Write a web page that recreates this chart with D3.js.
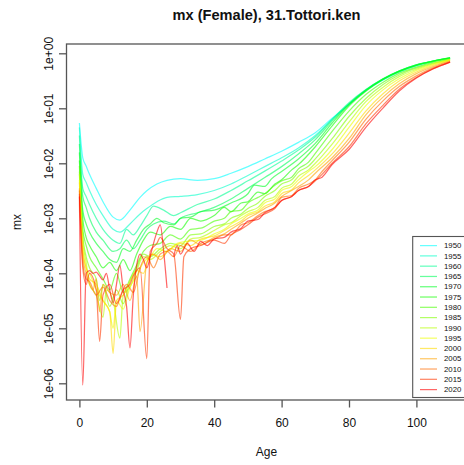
<!DOCTYPE html>
<html>
<head>
<meta charset="utf-8">
<script src="https://cdn.jsdelivr.net/npm/d3@7"></script>
<style>
  body { margin: 0; background: #fff; }
  svg { display: block; }
  text { font-family: "Liberation Sans", Arial, Helvetica, sans-serif; fill: #111; }
</style>
</head>
<body>
<svg id="chart" width="464" height="465"></svg>
<script>
// Female death rates (mx) by single year of age, Tottori prefecture, every fifth year.
const years = [1950, 1955, 1960, 1965, 1970, 1975, 1980, 1985, 1990, 1995, 2000, 2005, 2010, 2015, 2020];

const ages1950 = [0,1,2,3,5,7,10,12,15,18,20,23,26,30,35,40,45,50,55,60,65,70,75,80,85,90,95,100,105,110];
const mx1950 = [5.4e-2,1.26e-2,8.9e-3,6.3e-3,3.5e-3,2.0e-3,1.05e-3,9.3e-4,1.41e-3,2.4e-3,3.16e-3,4.2e-3,4.9e-3,5.25e-3,4.9e-3,5.25e-3,6.6e-3,8.7e-3,1.2e-2,1.66e-2,2.4e-2,3.6e-2,6.6e-2,0.117,0.209,0.324,0.457,0.589,0.708,0.813];

const ages1955 = ages1950;
const mx1955 = [4.5e-2,6.3e-3,4.5e-3,3.2e-3,1.78e-3,1.12e-3,6.3e-4,5.6e-4,7.9e-4,1.2e-3,1.5e-3,2.0e-3,2.4e-3,2.5e-3,2.7e-3,3.2e-3,4.2e-3,6.0e-3,8.7e-3,1.26e-2,1.9e-2,3.2e-2,6.3e-2,0.12,0.214,0.331,0.468,0.603,0.724,0.813];

const ages1960 = [0,1,2,3,5,7,10,12,14,16,18,20,22,25,28,30,35,40,45,50,55,60,65,70,75,80,85,90,95,100,105,110];
const mx1960 = [3.2e-2,3.5e-3,2.5e-3,1.78e-3,1.0e-3,6.3e-4,4.0e-4,3.5e-4,6.3e-4,5.0e-4,7.1e-4,1.12e-3,1.66e-3,1.41e-3,1.12e-3,1.26e-3,1.78e-3,2.24e-3,3.2e-3,4.8e-3,7.2e-3,1.1e-2,1.74e-2,3.0e-2,6.3e-2,0.126,0.219,0.339,0.479,0.617,0.724,0.822];

const ages1965 = ages1960;
const mx1965 = [2.24e-2,2.5e-3,1.58e-3,1.0e-3,5.6e-4,4.0e-4,2.5e-4,2.8e-4,4.0e-4,2.8e-4,4.0e-4,6.3e-4,7.9e-4,8.9e-4,7.9e-4,1.0e-3,1.26e-3,1.58e-3,2.24e-3,3.5e-3,5.5e-3,8.7e-3,1.48e-2,2.7e-2,5.9e-2,0.12,0.214,0.339,0.479,0.617,0.724,0.822];

const ages1970 = [0,1,2,3,5,7,9,11,13,15,17,19,21,23,25,28,30,33,36,40,45,50,52,55,57,60,65,70,75,80,85,90,95,100,105,110];
const mx1970 = [1.58e-2,1.41e-3,7.9e-4,5.6e-4,3.5e-4,2.5e-4,1.78e-4,1.58e-4,2.8e-4,2.5e-4,4.0e-4,6.3e-4,7.9e-4,1.0e-3,8.3e-4,7.6e-4,1.0e-3,1.05e-3,1.32e-3,1.41e-3,1.9e-3,2.8e-3,4.0e-3,3.8e-3,5.2e-3,7.1e-3,1.2e-2,2.3e-2,5.4e-2,0.117,0.214,0.339,0.479,0.617,0.724,0.822];

const ages1975 = [0,1,2,3,5,7,9,11,13,15,17,19,21,24,27,30,33,36,40,43,45,48,50,53,55,58,60,63,65,70,75,80,85,90,95,100,105,110];
const mx1975 = [1.12e-2,1.0e-3,4.5e-4,3.2e-4,2.0e-4,1.26e-4,1.58e-4,1.12e-4,1.78e-4,1.12e-4,2.24e-4,4.0e-4,5.6e-4,5.0e-4,7.1e-4,6.3e-4,1.0e-3,8.9e-4,1.12e-3,1.58e-3,1.32e-3,1.9e-3,2.0e-3,3.0e-3,2.8e-3,4.2e-3,5.0e-3,7.6e-3,9.5e-3,2.0e-2,4.8e-2,0.11,0.204,0.331,0.468,0.603,0.724,0.822];

const ages1980 = [0,1,2,3,5,7,9,11,13,15,17,19,21,24,27,30,33,36,40,43,45,48,50,53,55,58,60,63,65,68,70,75,80,85,90,95,100,105,110];
const mx1980 = [8.9e-3,6.3e-4,3.2e-4,2.0e-4,1.26e-4,7.9e-5,5.0e-5,1.0e-4,4.5e-5,7.9e-5,1.41e-4,2.5e-4,3.2e-4,3.5e-4,5.0e-4,4.2e-4,6.3e-4,6.6e-4,8.9e-4,1.0e-3,1.32e-3,1.41e-3,1.9e-3,2.4e-3,2.8e-3,4.0e-3,4.8e-3,5.6e-3,7.9e-3,1.05e-2,1.51e-2,3.8e-2,8.9e-2,0.178,0.295,0.437,0.562,0.692,0.794];

const ages1985 = [0,1,2,3,5,6,7,9,11,13,15,17,19,21,24,27,30,33,36,40,43,45,48,50,53,55,58,60,63,65,68,70,75,80,85,90,95,100,105,110];
const mx1985 = [7.1e-3,5.0e-4,2.0e-4,1.26e-4,7.9e-5,3.2e-5,6.3e-5,2.5e-5,5.0e-5,2.8e-5,7.1e-5,1.26e-4,2.24e-4,2.0e-4,2.8e-4,3.5e-4,3.2e-4,5.0e-4,5.2e-4,7.1e-4,7.9e-4,1.0e-3,1.2e-3,1.51e-3,1.9e-3,2.5e-3,3.2e-3,4.2e-3,5.0e-3,6.9e-3,8.9e-3,1.2e-2,2.8e-2,7.1e-2,0.151,0.269,0.407,0.537,0.661,0.776];

const ages1990 = [0,1,2,3,5,7,8,10,12,13,15,17,19,21,24,27,30,33,36,40,43,45,48,50,53,55,58,60,63,65,68,70,75,80,85,90,95,100,105,110];
const mx1990 = [6.3e-3,4.0e-4,1.58e-4,6.3e-5,4.0e-5,1.58e-5,5.0e-5,3.2e-5,6.6e-6,4.0e-5,5.6e-5,1.12e-4,2.0e-4,1.78e-4,2.5e-4,3.2e-4,2.8e-4,4.2e-4,4.5e-4,6.0e-4,7.6e-4,8.3e-4,1.12e-3,1.32e-3,1.58e-3,2.1e-3,2.5e-3,3.5e-3,4.2e-3,5.8e-3,7.6e-3,1.0e-2,2.24e-2,5.6e-2,0.132,0.24,0.38,0.513,0.646,0.759];

const ages1995 = [0,1,2,3,5,7,9,10,11,13,15,17,19,21,23,26,29,32,36,40,43,45,48,50,53,55,58,60,63,65,68,70,75,80,85,90,95,100,105,110];
const mx1995 = [5.0e-3,3.2e-4,1.26e-4,1.0e-4,5.0e-5,3.2e-5,2.0e-5,1.0e-5,3.2e-5,2.24e-5,5.6e-5,8.9e-5,1.58e-4,2.0e-4,2.8e-4,2.5e-4,3.5e-4,3.8e-4,4.0e-4,5.2e-4,6.3e-4,7.9e-4,1.0e-3,1.2e-3,1.41e-3,1.9e-3,2.24e-3,3.2e-3,3.8e-3,5.0e-3,7.1e-3,8.7e-3,1.78e-2,4.5e-2,0.112,0.214,0.347,0.49,0.631,0.759];

const ages2000 = [0,1,2,3,5,7,9,10,11,13,15,17,19,21,24,27,30,33,36,40,43,45,48,50,53,55,58,60,63,65,68,70,75,80,85,90,95,100,105,110];
const mx2000 = [4.5e-3,2.5e-4,1.26e-4,7.9e-5,6.3e-5,3.2e-5,2.0e-5,3.5e-6,3.2e-5,4.0e-5,7.1e-5,1.12e-4,1.0e-4,2.24e-4,2.0e-4,2.8e-4,3.5e-4,3.2e-4,4.2e-4,4.8e-4,6.0e-4,7.1e-4,8.9e-4,1.12e-3,1.32e-3,1.66e-3,2.0e-3,2.8e-3,3.3e-3,4.4e-3,6.0e-3,7.6e-3,1.48e-2,3.5e-2,8.9e-2,0.182,0.316,0.457,0.603,0.741];

const ages2005 = [0,1,2,3,4,5,6,7,9,11,13,15,17,18,20,22,24,27,30,33,36,40,43,45,48,50,53,55,58,60,63,65,68,70,75,80,85,90,95,100,105,110];
const mx2005 = [3.5e-3,2.0e-4,1.0e-4,6.3e-5,5.0e-5,7.9e-5,2.0e-5,6.3e-5,4.5e-5,4.0e-5,6.3e-5,3.2e-5,8.9e-5,8.7e-6,1.58e-4,2.24e-4,1.78e-4,2.8e-4,2.5e-4,4.0e-4,3.3e-4,4.5e-4,5.2e-4,6.3e-4,8.3e-4,1.0e-3,1.26e-3,1.51e-3,1.9e-3,2.5e-3,3.2e-3,3.8e-3,5.0e-3,6.6e-3,1.26e-2,2.8e-2,7.6e-2,0.158,0.282,0.427,0.575,0.724];

const ages2010 = [0,1,2,3,5,7,9,11,12,14,16,18,20,22,24,26,28,30,33,36,40,43,45,48,50,53,55,58,60,63,65,68,70,72,75,80,85,90,95,100,105,110];
const mx2010 = [3.2e-3,1.58e-4,7.9e-5,7.1e-5,4.0e-5,5.6e-5,3.2e-5,2.5e-5,3.5e-5,6.3e-5,4.5e-5,1.26e-4,2.0e-4,1.26e-4,2.24e-4,2.5e-4,2.0e-4,3.2e-4,2.5e-4,3.5e-4,4.2e-4,5.0e-4,5.0e-4,7.6e-4,8.3e-4,1.12e-3,1.32e-3,1.58e-3,2.4e-3,2.6e-3,3.5e-3,4.2e-3,5.0e-3,7.1e-3,1.12e-2,2.4e-2,6.3e-2,0.135,0.251,0.389,0.55,0.708];

const ages2015 = [0,1,2,3,5,6,7,9,11,13,15,16,18,20,21,23,24,26,28,30,31,33,36,40,43,45,48,50,53,55,58,60,63,65,68,70,72,75,80,85,90,95,100,105,110];
const mx2015 = [2.8e-3,1.26e-4,6.3e-5,1.0e-4,5.0e-5,5.8e-6,4.0e-5,6.3e-5,2.8e-5,5.0e-5,6.3e-5,8.9e-5,1.26e-4,2.8e-6,2.5e-4,3.5e-4,4.5e-4,2.8e-4,2.24e-4,1.45e-5,2.0e-4,2.8e-4,3.2e-4,4.0e-4,3.5e-4,5.0e-4,6.3e-4,7.6e-4,1.05e-3,1.2e-3,1.51e-3,2.1e-3,2.5e-3,3.2e-3,3.8e-3,4.8e-3,6.3e-3,1.0e-2,2.0e-2,5.2e-2,0.112,0.224,0.363,0.525,0.692];

// null = no deaths recorded at that age (cannot be drawn on a log axis)
const ages2020 = [0,1,2,3,4,5,6,7,8,9,10,11,12,13,14,15,16,17,18,19,20,21,22,23,24,25,26,27,28,29,30,32,34,36,38,40,43,45,48,50,53,55,58,60,63,65,68,70,72,75,80,85,90,95,100,105,110];
const mx2020 = [2.5e-3,9.3e-7,1.0e-4,1.12e-4,1.0e-4,1.05e-4,8.9e-5,7.6e-5,1.0e-4,5.0e-5,2.9e-5,6.3e-5,1.41e-4,5.0e-5,2.5e-5,4.4e-6,4.0e-5,1.41e-4,2.24e-4,1.78e-4,1.26e-4,2.0e-4,3.5e-4,5.6e-4,7.6e-4,2.5e-4,5.4e-5,null,2.0e-4,3.2e-4,2.24e-4,3.5e-4,2.5e-4,3.8e-4,3.2e-4,4.2e-4,4.5e-4,5.6e-4,6.6e-4,8.9e-4,9.5e-4,1.26e-3,1.58e-3,2.1e-3,2.5e-3,3.2e-3,3.8e-3,5.0e-3,5.6e-3,9.5e-3,1.78e-2,4.5e-2,0.1,0.209,0.355,0.525,0.692];

const yTicks = [1e-6, 1e-5, 1e-4, 1e-3, 1e-2, 1e-1, 1];
const yTickLabels = ["1e-06", "1e-05", "1e-04", "1e-03", "1e-02", "1e-01", "1e+00"];
const xTicks = [0, 20, 40, 60, 80, 100];

const ageArrays = [ages1950, ages1955, ages1960, ages1965, ages1970, ages1975, ages1980, ages1985, ages1990, ages1995, ages2000, ages2005, ages2010, ages2015, ages2020];
const mxArrays = [mx1950, mx1955, mx1960, mx1965, mx1970, mx1975, mx1980, mx1985, mx1990, mx1995, mx2000, mx2005, mx2010, mx2015, mx2020];

const series = years.map((yr, i) => ({
  year: yr,
  points: ageArrays[i].map((a, j) => ({ age: a, mx: mxArrays[i][j] }))
}));

// rainbow from cyan (oldest) to red (newest)
const hue = d3.scaleLinear().domain([0, years.length - 1]).range([180, 0]);
const colorOf = i => d3.hsl(hue(i), 1, 0.5).formatHex();

const svg = d3.select("#chart");
const plot = { left: 66.5, top: 44, right: 470, bottom: 400 };

const x = d3.scaleLinear().domain([0, 100]).range([79.4, 416.4]);
const y = d3.scaleLog().domain([1e-6, 1]).range([383.3, 53.3]);

svg.append("defs").append("clipPath").attr("id", "plotclip")
  .append("rect")
  .attr("x", plot.left).attr("y", plot.top)
  .attr("width", plot.right - plot.left).attr("height", plot.bottom - plot.top);

// series lines
const line = d3.line()
  .defined(d => d.mx != null)
  .x(d => x(d.age))
  .y(d => y(d.mx))
  .curve(d3.curveMonotoneX);

svg.append("g").attr("clip-path", "url(#plotclip)")
  .selectAll("path")
  .data(series)
  .join("path")
  .attr("fill", "none")
  .attr("stroke", (d, i) => colorOf(i))
  .attr("stroke-opacity", 0.6)
  .attr("stroke-width", 1.25)
  .attr("stroke-linejoin", "round")
  .attr("d", d => line(d.points));

// plot frame
svg.append("rect")
  .attr("x", plot.left).attr("y", plot.top)
  .attr("width", plot.right - plot.left).attr("height", plot.bottom - plot.top)
  .attr("fill", "none").attr("stroke", "#555").attr("stroke-width", 1.3);

// y axis
const yAxis = d3.axisLeft(y)
  .tickValues(yTicks)
  .tickSize(7.5)
  .tickFormat((d, i) => yTickLabels[i]);
const gy = svg.append("g").attr("transform", `translate(${plot.left},0)`).call(yAxis);
gy.select(".domain").remove();
gy.selectAll(".tick line").attr("stroke", "#555").attr("stroke-width", 1.3);
gy.selectAll(".tick text")
  .attr("x", null).attr("dy", null)
  .attr("transform", "translate(-13.5,0) rotate(-90)")
  .attr("text-anchor", "middle")
  .attr("font-size", 12)
  .style("fill", "#111");

// x axis
const xAxis = d3.axisBottom(x).tickValues(xTicks).tickSize(7.5).tickFormat(d3.format("d"));
const gx = svg.append("g").attr("transform", `translate(0,${plot.bottom})`).call(xAxis);
gx.select(".domain").remove();
gx.selectAll(".tick line").attr("stroke", "#555").attr("stroke-width", 1.3);
gx.selectAll(".tick text")
  .attr("y", 27).attr("dy", null)
  .attr("font-size", 12)
  .style("fill", "#111");

// titles
svg.append("text")
  .attr("x", 266.5).attr("y", 19.5)
  .attr("text-anchor", "middle")
  .attr("font-size", 14.6).attr("font-weight", "bold")
  .text("mx (Female), 31.Tottori.ken");

svg.append("text")
  .attr("x", 266.5).attr("y", 455.5)
  .attr("text-anchor", "middle")
  .attr("font-size", 12)
  .text("Age");

svg.append("text")
  .attr("transform", "translate(20.5,222) rotate(-90)")
  .attr("text-anchor", "middle")
  .attr("font-size", 12)
  .text("mx");

// legend
const legend = svg.append("g");
legend.append("rect")
  .attr("x", 412.7).attr("y", 236.5)
  .attr("width", 60).attr("height", 161)
  .attr("fill", "#fff").attr("stroke", "#555").attr("stroke-width", 1.1);

const rowY = d3.scaleLinear().domain([0, years.length - 1]).range([245.6, 389.6]);
const rows = legend.selectAll("g.row").data(years).join("g").attr("class", "row")
  .attr("transform", (d, i) => `translate(0,${rowY(i)})`);
rows.append("line")
  .attr("x1", 420).attr("x2", 437).attr("y1", 0).attr("y2", 0)
  .attr("stroke", (d, i) => colorOf(i))
  .attr("stroke-opacity", 0.6)
  .attr("stroke-width", 1.25);
rows.append("text")
  .attr("x", 444).attr("y", 0).attr("dy", "0.35em")
  .attr("font-size", 7.8)
  .text(d => d);
</script>
</body>
</html>
